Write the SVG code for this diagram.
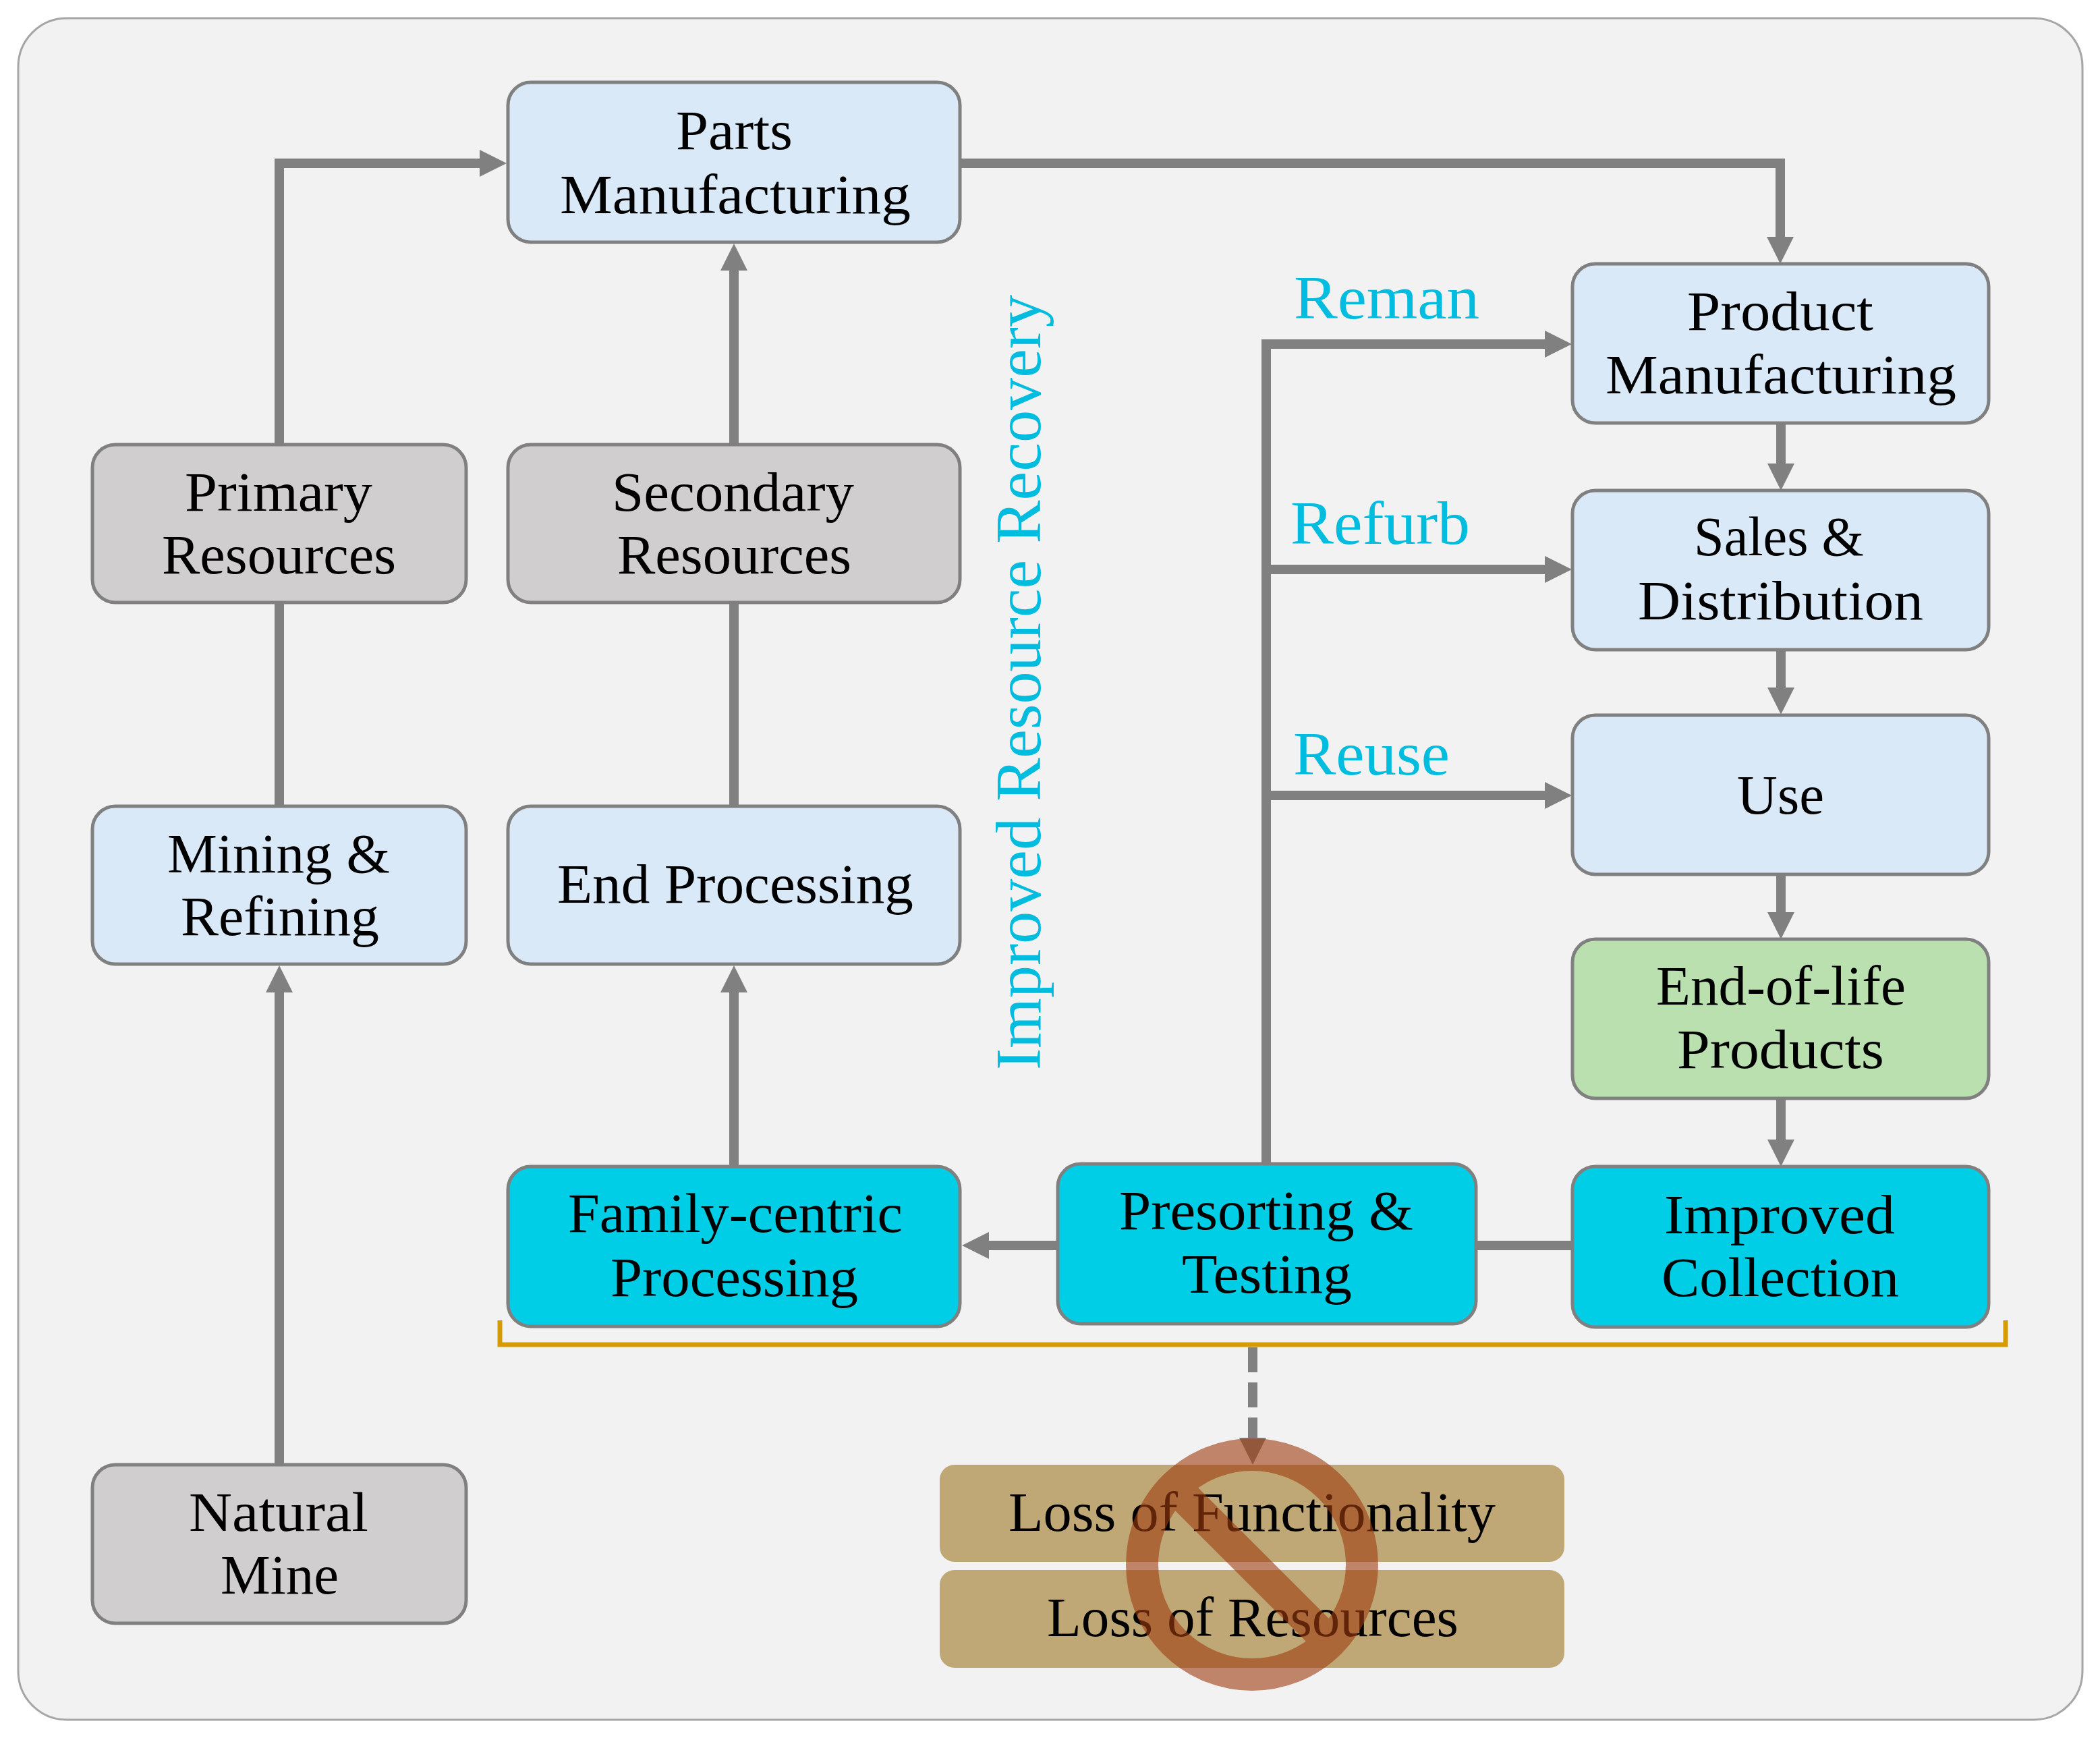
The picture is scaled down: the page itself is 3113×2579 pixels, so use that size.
<svg xmlns="http://www.w3.org/2000/svg" width="3113" height="2579" viewBox="0 0 3113 2579">
<style>
.n{stroke:#808080;stroke-width:5}
.blue{fill:#DAE9F7}.gray{fill:#D0CECE}.cyan{fill:#00CDE6}.green{fill:#BBE0B0}.tan{fill:#BFA876}
text{font-family:"Liberation Serif","Times New Roman",serif;font-size:83px;fill:#000}
text.c{font-size:92px;fill:#00BCDE}
.f{fill:none;stroke:#808080;stroke-width:14;stroke-linejoin:miter}
</style>
<defs>
<marker id="a" markerUnits="userSpaceOnUse" markerWidth="42" markerHeight="44" refX="0" refY="22" orient="auto"><path d="M0 2L40 22L0 42Z" fill="#808080"/></marker>
</defs>
<rect id="panel" x="27" y="27" width="3060" height="2522" rx="72" fill="#F2F2F2" stroke="#A6A6A6" stroke-width="3"/>
<g id="connectors">
<path class="f" d="M414 659V242H711" marker-end="url(#a)"/>
<path class="f" d="M414 893V1195"/>
<path class="f" d="M414 2171V1471" marker-end="url(#a)"/>
<path class="f" d="M1088 659V401" marker-end="url(#a)"/>
<path class="f" d="M1088 893V1195"/>
<path class="f" d="M1088 1729V1471" marker-end="url(#a)"/>
<path class="f" d="M1423 242H2639V351" marker-end="url(#a)"/>
<path class="f" d="M2640 627V687" marker-end="url(#a)"/>
<path class="f" d="M2640 963V1019" marker-end="url(#a)"/>
<path class="f" d="M2640 1296V1352" marker-end="url(#a)"/>
<path class="f" d="M2640 1628V1689" marker-end="url(#a)"/>
<path class="f" d="M1877 1725V510H2290" marker-end="url(#a)"/>
<path class="f" d="M1877 844H2290" marker-end="url(#a)"/>
<path class="f" d="M1877 1179H2290" marker-end="url(#a)"/>
<path class="f" d="M2331 1846H2188"/>
<path class="f" d="M1568 1846H1466" marker-end="url(#a)"/>
<path class="f" d="M1857 1997V2131" stroke-dasharray="37 15" marker-end="url(#a)"/>
<path fill="none" stroke="#D59B00" stroke-width="7" d="M741 1957V1993H2973V1957"/>
</g>
<g id="parts-manufacturing"><rect class="n blue" x="753" y="122" width="670" height="237" rx="34"/>
<text x="1002" y="221" textLength="173" lengthAdjust="spacingAndGlyphs">Parts</text><text x="830" y="316" textLength="520" lengthAdjust="spacingAndGlyphs">Manufacturing</text></g>
<g id="primary-resources"><rect class="n gray" x="137" y="659" width="554" height="234" rx="34"/>
<text x="274" y="757" textLength="278" lengthAdjust="spacingAndGlyphs">Primary</text><text x="240" y="850" textLength="347" lengthAdjust="spacingAndGlyphs">Resources</text></g>
<g id="secondary-resources"><rect class="n gray" x="753" y="659" width="670" height="234" rx="34"/>
<text x="907" y="757" textLength="359" lengthAdjust="spacingAndGlyphs">Secondary</text><text x="915" y="850" textLength="347" lengthAdjust="spacingAndGlyphs">Resources</text></g>
<g id="mining-refining"><rect class="n blue" x="137" y="1195" width="554" height="234" rx="34"/>
<text x="248" y="1293" textLength="330" lengthAdjust="spacingAndGlyphs">Mining &amp;</text><text x="268" y="1386" textLength="294" lengthAdjust="spacingAndGlyphs">Refining</text></g>
<g id="end-processing"><rect class="n blue" x="753" y="1195" width="670" height="234" rx="34"/>
<text x="826" y="1338" textLength="528" lengthAdjust="spacingAndGlyphs">End Processing</text></g>
<g id="natural-mine"><rect class="n gray" x="137" y="2171" width="554" height="235" rx="34"/>
<text x="280" y="2269" textLength="266" lengthAdjust="spacingAndGlyphs">Natural</text><text x="327" y="2362" textLength="175" lengthAdjust="spacingAndGlyphs">Mine</text></g>
<g id="family-centric"><rect class="n cyan" x="753" y="1729" width="670" height="237" rx="34"/>
<text x="842" y="1826" textLength="496" lengthAdjust="spacingAndGlyphs">Family-centric</text><text x="905" y="1921" textLength="367" lengthAdjust="spacingAndGlyphs">Processing</text></g>
<g id="presorting"><rect class="n cyan" x="1568" y="1725" width="620" height="237" rx="34"/>
<text x="1659" y="1822" textLength="436" lengthAdjust="spacingAndGlyphs">Presorting &amp;</text><text x="1752" y="1916" textLength="252" lengthAdjust="spacingAndGlyphs">Testing</text></g>
<g id="improved-collection"><rect class="n cyan" x="2331" y="1729" width="617" height="238" rx="34"/>
<text x="2467" y="1828" textLength="342" lengthAdjust="spacingAndGlyphs">Improved</text><text x="2463" y="1921" textLength="352" lengthAdjust="spacingAndGlyphs">Collection</text></g>
<g id="product-manufacturing"><rect class="n blue" x="2331" y="391" width="617" height="236" rx="34"/>
<text x="2501" y="489" textLength="276" lengthAdjust="spacingAndGlyphs">Product</text><text x="2380" y="583" textLength="520" lengthAdjust="spacingAndGlyphs">Manufacturing</text></g>
<g id="sales-distribution"><rect class="n blue" x="2331" y="727" width="617" height="236" rx="34"/>
<text x="2511" y="823" textLength="252" lengthAdjust="spacingAndGlyphs">Sales &amp;</text><text x="2428" y="918" textLength="423" lengthAdjust="spacingAndGlyphs">Distribution</text></g>
<g id="use"><rect class="n blue" x="2331" y="1060" width="617" height="236" rx="34"/>
<text x="2575" y="1206" textLength="129" lengthAdjust="spacingAndGlyphs">Use</text></g>
<g id="end-of-life"><rect class="n green" x="2331" y="1392" width="617" height="236" rx="34"/>
<text x="2455" y="1489" textLength="370" lengthAdjust="spacingAndGlyphs">End-of-life</text><text x="2486" y="1583" textLength="307" lengthAdjust="spacingAndGlyphs">Products</text></g>
<g id="loss-functionality"><rect class="tan" x="1393" y="2171" width="926" height="144" rx="22"/>
<text x="1495" y="2269" textLength="722" lengthAdjust="spacingAndGlyphs">Loss of Functionality</text></g>
<g id="loss-resources"><rect class="tan" x="1393" y="2327" width="926" height="145" rx="22"/>
<text x="1552" y="2425" textLength="610" lengthAdjust="spacingAndGlyphs">Loss of Resources</text></g>
<text class="c" x="1918" y="472" textLength="275" lengthAdjust="spacingAndGlyphs">Reman</text>
<text class="c" x="1913" y="806" textLength="266" lengthAdjust="spacingAndGlyphs">Refurb</text>
<text class="c" x="1917" y="1148" textLength="232" lengthAdjust="spacingAndGlyphs">Reuse</text>
<text class="c" style="font-size:96px" transform="translate(1542 1586) rotate(-90)" textLength="1149" lengthAdjust="spacingAndGlyphs">Improved Resource Recovery</text>
<g id="no-symbol" opacity=".6"><circle cx="1856" cy="2319" r="163" fill="none" stroke="#A03C10" stroke-width="48"/><path d="M1741 2204L1971 2434" stroke="#A03C10" stroke-width="48"/></g>
</svg>
